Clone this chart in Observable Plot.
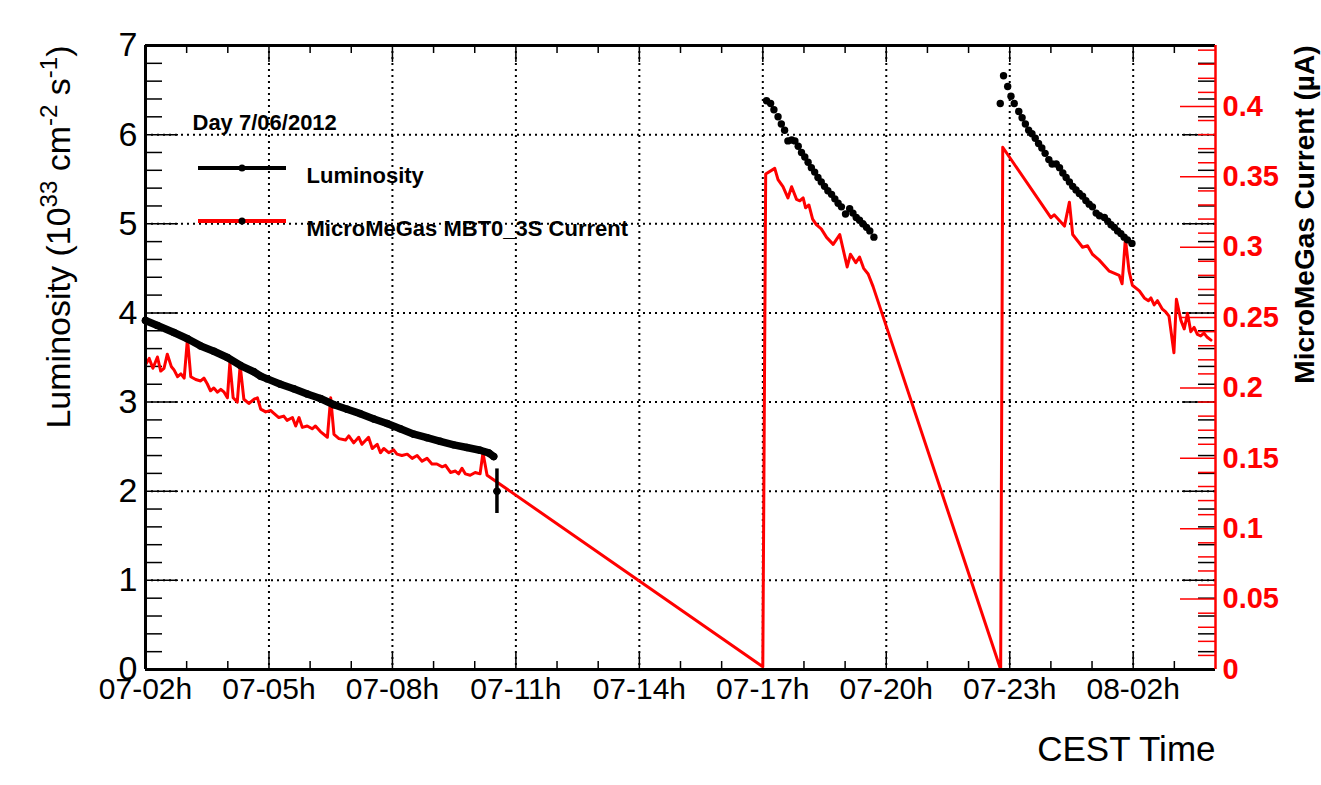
<!DOCTYPE html>
<html><head><meta charset="utf-8">
<script src="https://cdn.jsdelivr.net/npm/d3@7"></script>
<script src="https://cdn.jsdelivr.net/npm/@observablehq/plot@0.6"></script>
<style>body{margin:0;background:#fff}svg{display:block}</style>
</head><body><div id="chart"></div>
<script>
// ---------- DATA (time in hours since 7 June 00:00) ----------
const lumRun1Hours  = [2.00,2.29,2.69,3.02,3.34,3.66,3.99,4.31,4.63,4.80,4.96,5.28,5.60,5.93,6.25,6.58,6.90,7.22,7.55,7.87,8.19,8.52,8.84,9.16,9.49,9.81,10.13,10.34,10.46];
const lumRun1Values = [3.915,3.86,3.78,3.71,3.63,3.57,3.50,3.41,3.34,3.29,3.26,3.20,3.15,3.09,3.04,2.97,2.92,2.87,2.81,2.76,2.70,2.64,2.60,2.56,2.52,2.49,2.46,2.43,2.39];
const lumRun2Hours  = [17.09,17.19,17.27,17.37,17.45,17.53,17.61,17.70,17.78,17.86,17.94,18.02,18.10,18.18,18.26,18.34,18.42,18.50,18.58,18.67,18.75,18.83,18.91,19.01,19.11,19.19,19.27,19.35,19.43,19.52,19.60,19.70];
const lumRun2Values = [6.38,6.35,6.28,6.20,6.12,6.05,5.93,5.94,5.93,5.87,5.80,5.75,5.69,5.63,5.58,5.52,5.47,5.42,5.37,5.33,5.28,5.23,5.19,5.11,5.17,5.12,5.07,5.04,5.00,4.96,4.92,4.85];
const lumRun3Hours  = [22.77,22.85,22.95,23.03,23.11,23.22,23.30,23.38,23.46,23.54,23.62,23.70,23.78,23.86,23.95,24.03,24.13,24.21,24.29,24.37,24.45,24.53,24.61,24.69,24.77,24.85,24.93,25.01,25.10,25.18,25.30,25.38,25.46,25.54,25.62,25.70,25.78,25.86,25.97];
const lumRun3Values = [6.35,6.66,6.54,6.43,6.35,6.26,6.19,6.12,6.05,6.01,5.96,5.90,5.85,5.79,5.72,5.67,5.67,5.63,5.57,5.52,5.47,5.42,5.38,5.34,5.31,5.26,5.22,5.19,5.12,5.09,5.07,5.03,4.99,4.96,4.92,4.89,4.85,4.82,4.78];
const lumErrHour = 10.54, lumErrValue = 2.0, lumErrSize = 0.25;

const currentHours = [2.01,2.09,2.18,2.29,2.37,2.45,2.53,2.63,2.69,2.78,2.86,2.94,3.02,3.10,3.22,3.34,3.42,3.50,3.58,3.66,3.75,3.83,3.91,3.99,4.05,4.13,4.23,4.30,4.39,4.51,4.64,4.72,4.80,4.92,5.04,5.12,5.24,5.36,5.44,5.57,5.65,5.73,5.81,5.93,6.05,6.13,6.25,6.42,6.50,6.58,6.70,6.86,6.94,7.06,7.18,7.26,7.42,7.51,7.63,7.71,7.79,7.91,8.03,8.11,8.23,8.36,8.48,8.60,8.72,8.84,8.96,9.08,9.21,9.29,9.41,9.53,9.61,9.69,9.77,9.89,10.01,10.13,10.20,10.30,
  17.00,17.07,17.29,17.37,17.49,17.61,17.70,17.82,17.90,17.98,18.04,18.12,18.21,18.30,18.42,18.55,18.71,18.87,19.05,19.13,19.26,19.35,19.45,19.56,19.68,
  22.78,22.83,24.00,24.08,24.33,24.45,24.53,24.77,24.89,25.01,25.17,25.42,25.66,25.73,25.81,25.90,25.98,26.15,26.27,26.37,26.43,26.51,26.59,26.71,26.79,26.87,26.99,27.05,27.16,27.24,27.32,27.40,27.48,27.56,27.64,27.72,27.80,27.89];
const currentValues = [0.217,0.221,0.214,0.222,0.212,0.214,0.224,0.215,0.213,0.208,0.210,0.207,0.235,0.208,0.206,0.205,0.207,0.203,0.198,0.200,0.197,0.199,0.197,0.193,0.218,0.193,0.190,0.216,0.192,0.189,0.192,0.193,0.185,0.183,0.184,0.182,0.179,0.180,0.177,0.179,0.173,0.179,0.172,0.173,0.171,0.173,0.169,0.165,0.193,0.167,0.164,0.163,0.166,0.161,0.165,0.160,0.165,0.157,0.160,0.154,0.157,0.154,0.156,0.153,0.152,0.153,0.150,0.152,0.148,0.150,0.146,0.146,0.144,0.145,0.140,0.141,0.139,0.143,0.139,0.138,0.140,0.139,0.154,0.138,
  0.002,0.352,0.356,0.348,0.343,0.335,0.343,0.334,0.333,0.335,0.328,0.330,0.320,0.316,0.313,0.307,0.302,0.309,0.286,0.295,0.289,0.293,0.285,0.281,0.272,
  0.000,0.371,0.321,0.323,0.315,0.332,0.309,0.300,0.301,0.295,0.291,0.283,0.280,0.274,0.306,0.283,0.273,0.269,0.264,0.262,0.264,0.259,0.262,0.256,0.254,0.251,0.225,0.263,0.248,0.242,0.253,0.240,0.243,0.238,0.237,0.239,0.236,0.234];

// ---------- AXES / TEXT ----------
const timeTickHours  = [2,5,8,11,14,17,20,23,26];
const timeTickLabels = ["07-02h","07-05h","07-08h","07-11h","07-14h","07-17h","07-20h","07-23h","08-02h"];
const timeDomain = [2,28];
const lumTickValues = [0,1,2,3,4,5,6,7];
const lumMax = 7;
const currentTickValues = [0,0.05,0.1,0.15,0.2,0.25,0.3,0.35,0.4];
const currentTickLabels = ["0","0.05","0.1","0.15","0.2","0.25","0.3","0.35","0.4"];
const currentMax = 0.4433;
const lumTitle = "Luminosity (10^33 cm^-2 s^-1)";
const currentTitle = "MicroMeGas Current (\u00B5A)";
const timeTitle = "CEST Time";
const legendDate = "Day 7/06/2012";
const legendLabels = ["Luminosity","MicroMeGas MBT0_3S Current"];
const legendColors = ["black","red"];

// ---------- BUILD ----------
const W = 1321, H = 785, mL = 145, mR = 106, mT = 45, mB = 116;
const fw = W - mL - mR, fh = H - mT - mB;
const font = "'Liberation Sans', Arial, Helvetica, sans-serif";
const toLum = c => c * lumMax / currentMax;
const rows = (xs, ys) => xs.map((x, i) => ({x, y: ys[i]}));
const lum1 = rows(lumRun1Hours, lumRun1Values);
const lumAll = [...lum1, ...rows(lumRun2Hours, lumRun2Values), ...rows(lumRun3Hours, lumRun3Values)];
const cur = currentHours.map((h, i) => ({x: h, y: toLum(currentValues[i])}));
const err = [{x: lumErrHour, y: lumErrValue, lo: lumErrValue - lumErrSize, hi: lumErrValue + lumErrSize}];

const lumMinor = d3.range(1, 35).map(i => i * 0.2).filter(v => Math.abs(v - Math.round(v)) > 1e-6);
const lumMajor = lumTickValues.slice(1, -1);
const curMinor = d3.range(1, 45).filter(i => i % 5 !== 0).map(i => toLum(i / 100));
const curMajor = currentTickValues.map(toLum);
const hourMajor = timeTickHours.slice(1);
const hourMinor = d3.range(3, 28).filter(h => !timeTickHours.includes(h));
const dotted = {stroke: "black", strokeWidth: 2, strokeDasharray: "2,4"};
const tk = {stroke: "black", strokeWidth: 1.5};

const chart = Plot.plot({
  width: W, height: H, marginLeft: mL, marginRight: mR, marginTop: mT, marginBottom: mB,
  x: {domain: timeDomain, axis: null},
  y: {domain: [0, lumMax], axis: null},
  style: {fontFamily: font, background: "white", color: "black", overflow: "visible"},
  marks: [
    Plot.ruleY(lumMajor, dotted),
    Plot.ruleX(hourMajor, dotted),
    Plot.ruleY(lumMinor, {...tk, insetRight: fw - 17}),
    Plot.ruleY(lumMajor, {...tk, insetRight: fw - 33}),
    Plot.ruleY(lumMinor, {...tk, insetLeft: fw - 17}),
    Plot.ruleY(lumMajor, {...tk, insetLeft: fw - 33}),
    Plot.ruleY(curMinor, {stroke: "red", strokeWidth: 1.5, insetLeft: fw - 17}),
    Plot.ruleY(curMajor, {stroke: "red", strokeWidth: 1.5, insetLeft: fw - 35}),
    Plot.ruleX(hourMinor, {...tk, insetTop: fh - 8}),
    Plot.ruleX(hourMajor, {...tk, insetTop: fh - 17}),
    Plot.ruleX(hourMinor, {...tk, insetBottom: fh - 8}),
    Plot.ruleX(hourMajor, {...tk, insetBottom: fh - 17}),
    Plot.line(cur, {x: "x", y: "y", stroke: "red", strokeWidth: 3, strokeLinejoin: "round"}),
    Plot.line(lum1, {x: "x", y: "y", stroke: "black", strokeWidth: 7.5, strokeLinecap: "round", curve: "linear"}),
    Plot.dot(lumAll, {x: "x", y: "y", r: 3.7, fill: "black", stroke: "none"}),
    Plot.ruleX(err, {x: "x", y1: "lo", y2: "hi", stroke: "black", strokeWidth: 3.5}),
    Plot.dot(err, {x: "x", y: "y", r: 3.7, fill: "black", stroke: "none"}),
    Plot.ruleY([0], {stroke: "black", strokeWidth: 3}),
    Plot.ruleY([lumMax], {stroke: "black", strokeWidth: 3}),
    Plot.ruleX([timeDomain[0]], {stroke: "black", strokeWidth: 3}),
    Plot.ruleX([timeDomain[1]], {stroke: "red", strokeWidth: 2.5}),
    Plot.text(lumTickValues, {y: d => d, text: d => String(d), frameAnchor: "left", dx: -8, textAnchor: "end", fontSize: 34}),
    Plot.text(currentTickValues, {y: d => toLum(d), text: (d, i) => currentTickLabels[i], frameAnchor: "right", dx: 7, textAnchor: "start", fill: "red", fontWeight: "bold", fontSize: 29}),
    Plot.text(timeTickHours, {x: d => d, text: (d, i) => timeTickLabels[i], frameAnchor: "bottom", dy: 8, lineAnchor: "top", fontSize: 30}),
    Plot.text([lumTitle], {frameAnchor: "top-left", dx: -100, rotate: -90, textAnchor: "end", fontSize: 34}),
    Plot.text([currentTitle], {frameAnchor: "top-right", dx: 79, rotate: -90, textAnchor: "end", fontWeight: "bold", fontSize: 28}),
    Plot.text([timeTitle], {frameAnchor: "bottom-right", dy: 91, textAnchor: "end", fontSize: 35}),
    Plot.text([legendDate], {frameAnchor: "top-left", dx: 47, dy: 69, textAnchor: "start", fontWeight: "bold", fontSize: 22}),
    Plot.text(legendLabels, {text: d => d, frameAnchor: "top-left", dx: 161, textAnchor: "start", fontWeight: "bold", fontSize: 22, filter: (d, i) => i === 0, dy: 122}),
    Plot.text(legendLabels, {text: d => d, frameAnchor: "top-left", dx: 161, textAnchor: "start", fontWeight: "bold", fontSize: 22, filter: (d, i) => i === 1, dy: 175})
  ]
});
document.getElementById("chart").appendChild(chart);

// superscripts in the luminosity title
const svg = d3.select(chart);
svg.selectAll("text").filter(function () { return this.textContent === lumTitle; }).each(function () {
  const t = d3.select(this);
  t.text(null);
  const parts = lumTitle.split(/\^(-?\d+)/);
  parts.forEach((s, i) => {
    if (!s) return;
    const sp = t.append("tspan").text(s);
    if (i % 2 === 1) sp.attr("dy", -13).attr("font-size", 24);
    else if (i > 0) sp.attr("dy", 13);
  });
});

// legend swatches
const lg = svg.append("g");
legendColors.forEach((c, i) => {
  const y = mT + 123 + i * 53;
  lg.append("line").attr("x1", 198).attr("x2", 286).attr("y1", y).attr("y2", y).attr("stroke", c).attr("stroke-width", 4);
  lg.append("circle").attr("cx", 242).attr("cy", y).attr("r", 3.5).attr("fill", "black");
});
</script>
</body></html>
